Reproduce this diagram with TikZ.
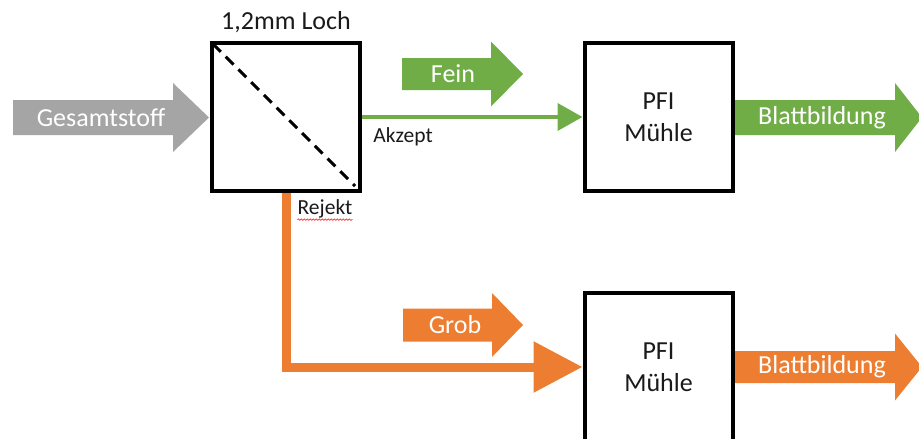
\documentclass[tikz,border=0pt]{standalone}
\usepackage{fontspec}
\setmainfont{Carlito}
\usetikzlibrary{arrows.meta,decorations.pathmorphing}
\definecolor{fgreen}{HTML}{70AD47}
\definecolor{forange}{HTML}{ED7D31}
\definecolor{fgray}{HTML}{A5A5A5}
\definecolor{ink}{HTML}{1A1A1A}
% block arrow: x0, x head base, x tip, y centre, half body height, half head height, colour
\newcommand\blockarr[7]{\fill[#7] (#1,#4-#5) -- (#2,#4-#5) -- (#2,#4-#6) -- (#3,#4) -- (#2,#4+#6) -- (#2,#4+#5) -- (#1,#4+#5) -- cycle;}
\tikzset{
  box/.style={draw=black, line width=4pt, fill=white, minimum width=148pt, minimum height=148pt, inner sep=0pt, align=center, text=ink},
  bigtext/.style={font=\fontsize{26}{32}\selectfont, inner sep=0pt},
  arrtext/.style={bigtext, text=white},
  smalltext/.style={font=\fontsize{21.5}{26}\selectfont, inner sep=0pt, text=ink},
  sieveline/.style={line width=3pt, dash pattern=on 11pt off 7pt, black},
  gline/.style={line width=4pt, fgreen, -{Triangle[length=25pt,width=27pt]}},
  oline/.style={line width=9pt, forange, line join=miter, -{Triangle[length=49pt,width=49pt]}}
}
\begin{document}
\begin{tikzpicture}[x=1pt,y=-1pt]
\useasboundingbox (0,0) rectangle (919,439);
% block arrows
\blockarr{13}{173}{209}{117.5}{17.5}{34.5}{fgray}
\blockarr{402}{491}{523}{74}{16}{32.5}{fgreen}
\blockarr{403}{492}{523}{325}{16.5}{32}{forange}
\blockarr{735}{895}{922}{117.5}{17.5}{34.5}{fgreen}
\blockarr{735}{895}{922}{367}{16}{33.5}{forange}
% boxes
\node[box] (sieve) at (286,117) {};
\node[box, bigtext] (pfi1) at (658.5,117) {PFI\\Mühle};
\node[box, bigtext] (pfi2) at (658.5,367) {PFI\\Mühle};
\draw[sieveline] ([shift={(3,3)}]sieve.north west) -- ([shift={(-7,-7)}]sieve.south east);
% connectors
\draw[gline] (sieve.east) -- (pfi1.west);
\draw[oline] (sieve.south) |- (pfi2.west);
% texts
\node[bigtext, text=ink] (loch) at (286,22) {1,2mm Loch};
\node[arrtext] (ges) at (101,117.5) {Gesamtstoff};
\node[arrtext] (fein) at (453,74) {Fein};
\node[arrtext] (grob) at (455,325) {Grob};
\node[arrtext] (blatt1) at (822,117.5) {Blattbildung};
\node[arrtext] (blatt2) at (822,367) {Blattbildung};
\node[smalltext] (akz) at (403,137) {Akzept};
\node[smalltext] (rej) at (325,209) {Rejekt};
\draw[red, line width=0.6pt, decorate, decoration={snake, segment length=3pt, amplitude=0.8pt}] ([shift={(0,5)}]rej.base west) -- ([shift={(0,5)}]rej.base east);
\end{tikzpicture}
\end{document}
